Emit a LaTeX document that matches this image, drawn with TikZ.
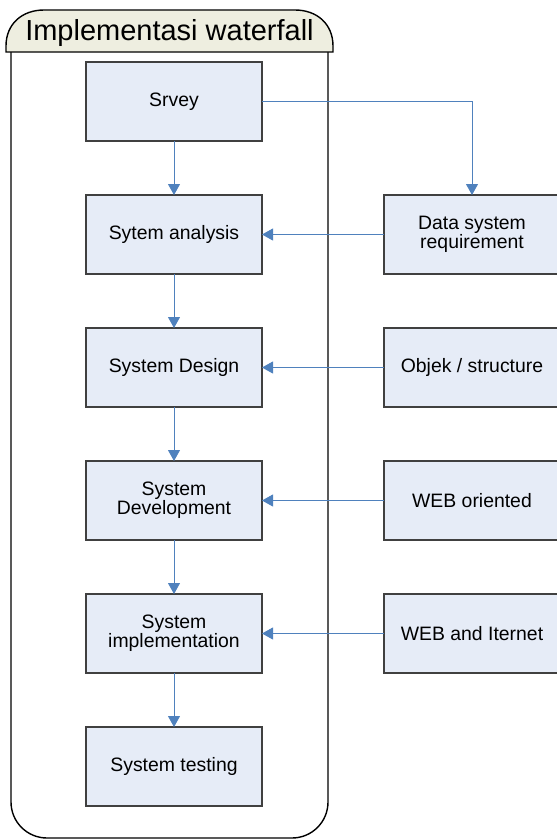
\documentclass[tikz,border=0pt]{standalone}
\usepackage{fontspec}
\setmainfont{Liberation Sans}
\usetikzlibrary{arrows.meta,positioning}
\definecolor{stagefill}{HTML}{E6ECF7}
\definecolor{stageline}{HTML}{404040}
\definecolor{flowblue}{HTML}{4F81BD}
\definecolor{tabfill}{HTML}{EEEEE0}
\tikzset{
     stage/.style = {draw=stageline, fill=stagefill, line width=1.2pt, outer sep=0pt,
                     minimum width=176pt, minimum height=79pt, inner sep=0pt,
                     font=\fontsize{19.4pt}{17pt}\selectfont, align=center},   % <--- boxes
      flow/.style = {flowblue, line width=0.9pt, -{Triangle[length=11pt,width=12pt]}},
}
\begin{document}
\begin{tikzpicture}
\useasboundingbox (0,0) rectangle (557pt,-839pt);
 % frame with title tab
 \draw[line width=1.4pt, rounded corners=36pt] (11pt,-52pt) -- (11pt,-838pt) -- (328pt,-838pt) -- (328pt,-52pt);
 \draw[line width=1.4pt, fill=tabfill] (6pt,-52pt) -- (6pt,-46pt)
   .. controls (6pt,-24pt) and (22pt,-10pt) .. (44pt,-10pt) -- (295pt,-10pt)
   .. controls (317pt,-10pt) and (333pt,-24pt) .. (333pt,-46pt) -- (333pt,-52pt) -- cycle;
 \node[anchor=base, inner sep=0pt] (title) at (169.5pt,-40pt) {\fontsize{29pt}{32pt}\selectfont Implementasi waterfall};
 \path[nodes=stage]
node (srvey) at (174pt,-101.5pt) {Srvey}
node[below=54pt of srvey] (analysis) {Sytem analysis}
node[below=54pt of analysis] (design) {System Design}
node[below=54pt of design] (develop) {System\\Development}
node[below=54pt of develop] (implement) {System\\implementation}
node[below=54pt of implement] (testing) {System testing}
node[right=122pt of analysis] (datareq) {Data system\\requirement}
node[right=122pt of design] (objek) {Objek / structure}
node[right=122pt of develop] (weborient) {WEB oriented}
node[right=122pt of implement] (webnet) {WEB and Iternet};
 \draw[flow] (srvey) -- (analysis);
 \draw[flow] (analysis) -- (design);
 \draw[flow] (design) -- (develop);
 \draw[flow] (develop) -- (implement);
 \draw[flow] (implement) -- (testing);
 \draw[flow] (srvey.east) -| (datareq.north);
 \draw[flow] (datareq) -- (analysis);
 \draw[flow] (objek) -- (design);
 \draw[flow] (weborient) -- (develop);
 \draw[flow] (webnet) -- (implement);
\end{tikzpicture}
\end{document}
